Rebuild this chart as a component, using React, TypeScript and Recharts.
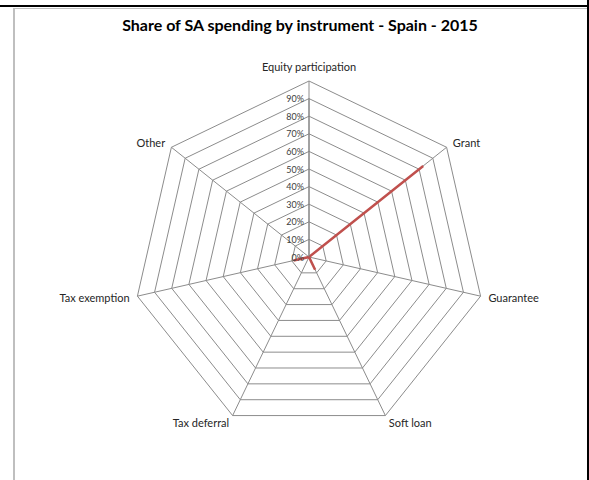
import { RadarChart, Radar, PolarGrid, PolarAngleAxis, PolarRadiusAxis } from 'recharts';

const instruments = ['Equity participation', 'Grant', 'Guarantee', 'Soft loan', 'Tax deferral', 'Tax exemption', 'Other'];
const shares = [0, 0.83, 0, 0.08, 0, 0.09, 0];
const radiusTicks = [0, 0.1, 0.2, 0.3, 0.4, 0.5, 0.6, 0.7, 0.8, 0.9];

const data = instruments.map((name, i) => ({ name, share: shares[i] }));

const FONT = 'Lato, "Noto Sans", sans-serif';
const GRID = '#8c8c8c';

function AngleTick(props: any) {
  const { x, y, textAnchor, payload } = props;
  const isTop = textAnchor === 'middle';
  return (
    <text
      x={x}
      y={isTop ? y - 7 : y}
      textAnchor={textAnchor}
      dominantBaseline="central"
      fontSize={11}
      fontFamily={FONT}
      fill="#262626"
    >
      {payload.value}
    </text>
  );
}

function RadiusTick(props: any) {
  const { x, y, payload } = props;
  return (
    <text x={x - 5} y={y} textAnchor="end" dominantBaseline="central" fontSize={9} fontFamily={FONT} fill="#404040">
      {Math.round(payload.value * 100) + '%'}
    </text>
  );
}

export default function App() {
  return (
    <div style={{ position: 'absolute', left: 0, top: 0, width: 589, height: 480, background: '#fff' }}>
      {/* frame lines */}
      <div style={{ position: 'absolute', left: 0, top: 5, width: 589, height: 2, background: '#000' }} />
      <div style={{ position: 'absolute', left: 587, top: 0, width: 2, height: 480, background: '#000' }} />
      <div style={{ position: 'absolute', left: 13, top: 8, width: 574, height: 1, background: '#bfbfbf' }} />
      <div style={{ position: 'absolute', left: 13, top: 8, width: 2, height: 472, background: '#bfbfbf' }} />
      <div
        style={{
          position: 'absolute',
          left: 13,
          top: 15,
          width: 574,
          textAlign: 'center',
          fontFamily: FONT,
          fontWeight: 'bold',
          fontSize: 16,
          color: '#000',
        }}
      >
        Share of SA spending by instrument - Spain - 2015
      </div>
      <div style={{ position: 'absolute', left: 0, top: 0 }}>
        <RadarChart width={589} height={480} data={data} cx={309} cy={257} outerRadius={176} margin={{ top: 0, right: 0, bottom: 0, left: 0 }}>
          <PolarGrid gridType="polygon" stroke={GRID} strokeWidth={1} />
          <PolarAngleAxis dataKey="name" tick={AngleTick} tickLine={false} axisLine={{ stroke: GRID }} />
          <PolarRadiusAxis
            angle={90}
            domain={[0, 0.9]}
            ticks={radiusTicks as any}
            tickCount={10}
            tick={RadiusTick}
            axisLine={{ stroke: '#7f7f7f' }}
            tickLine={false}
          />
          <Radar dataKey="share" stroke="#c0504d" strokeWidth={2.5} fill="none" fillOpacity={0} dot={false} isAnimationActive={false} />
        </RadarChart>
      </div>
    </div>
  );
}
